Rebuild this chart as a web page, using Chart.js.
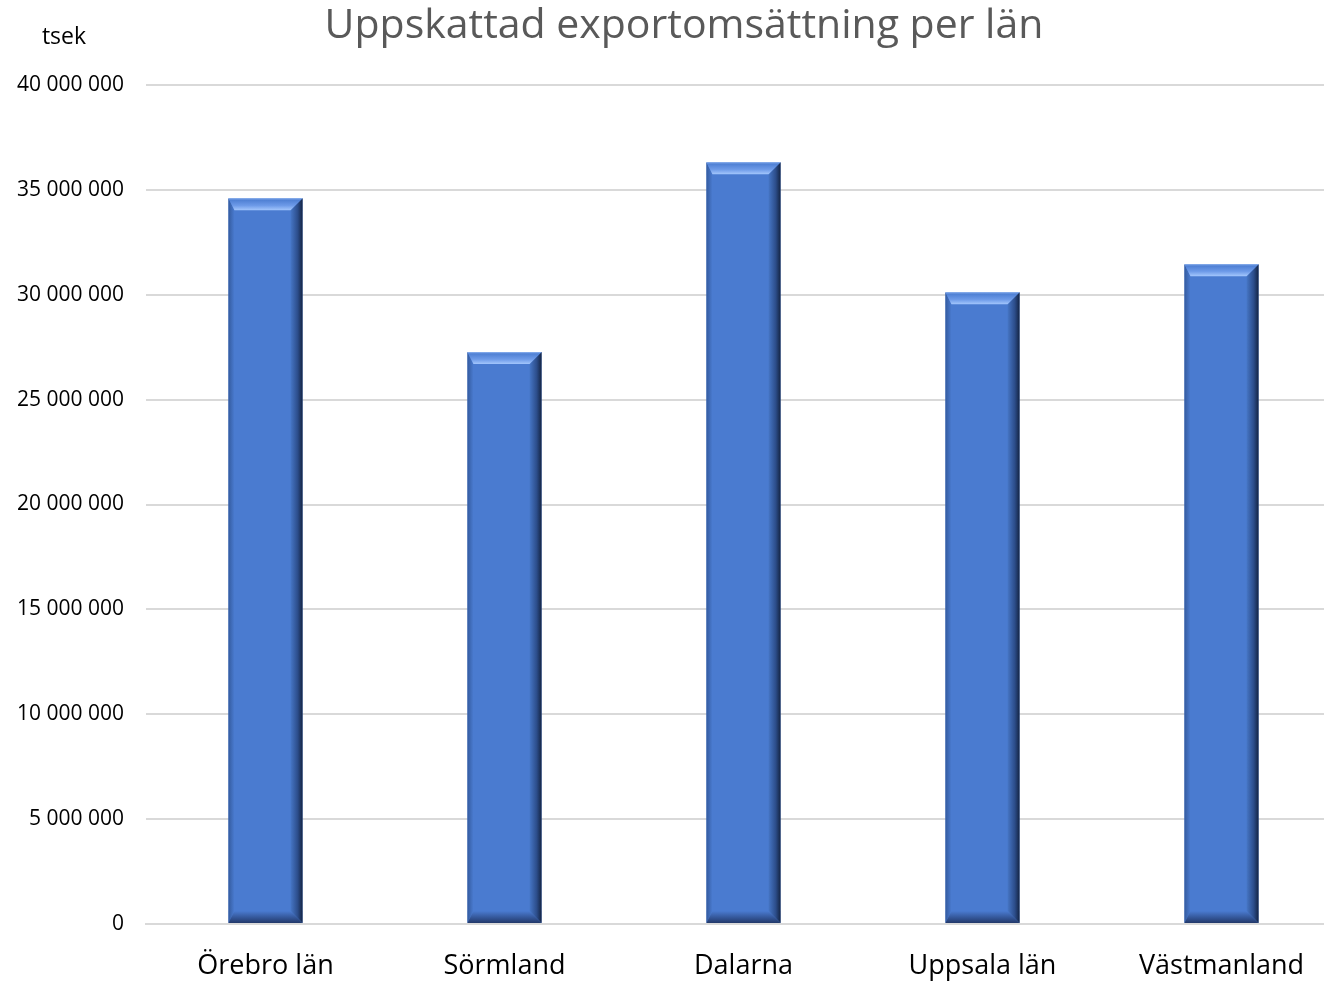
<!DOCTYPE html>
<html>
<head>
<meta charset="utf-8">
<script src="https://cdn.jsdelivr.net/npm/chart.js@4"></script>
<style>
    html, body { margin: 0; padding: 0; background: #fff; overflow: hidden; }
    #wrap { position: relative; width: 1341px; height: 981px; }
</style>
</head>
<body>
<div id="wrap"><canvas id="exportChart"></canvas></div>
<script>
// Uppskattad exportomsättning per län (tsek)
const lanNames = ['Örebro län', 'Sörmland', 'Dalarna', 'Uppsala län', 'Västmanland'];
const exportValues = [34600000, 27270000, 36320000, 30120000, 31460000];
const yTicks = [0, 5000000, 10000000, 15000000, 20000000, 25000000, 30000000, 35000000, 40000000];

const FONT = '"Open Sans", "Noto Sans", sans-serif';

function fmtSv(v) {
    return String(v).replace(/\B(?=(\d{3})+(?!\d))/g, ' ');
}

// fake the office "bevel" look on each bar
const bevelPlugin = {
    id: 'bevel',
    afterDatasetsDraw(chart) {
        const ctx = chart.ctx;
        chart.getDatasetMeta(0).data.forEach((bar) => {
            const w = bar.width;
            const l = bar.x - w / 2, r = bar.x + w / 2;
            const t = bar.y, b = bar.base;
            const bv = 12;
            ctx.save();

            // left edge
            let g = ctx.createLinearGradient(l, 0, l + 6, 0);
            g.addColorStop(0, '#345b9f');
            g.addColorStop(1, '#4a7bd0');
            ctx.fillStyle = g;
            ctx.beginPath();
            ctx.moveTo(l, t); ctx.lineTo(l + 6, t + bv); ctx.lineTo(l + 6, b - bv); ctx.lineTo(l, b);
            ctx.closePath(); ctx.fill();

            // right edge
            g = ctx.createLinearGradient(r - bv, 0, r, 0);
            g.addColorStop(0, '#4676c6');
            g.addColorStop(0.6, '#2c4d8a');
            g.addColorStop(1, '#142443');
            ctx.fillStyle = g;
            ctx.beginPath();
            ctx.moveTo(r, t); ctx.lineTo(r, b); ctx.lineTo(r - bv, b - bv); ctx.lineTo(r - bv, t + bv);
            ctx.closePath(); ctx.fill();

            // bottom edge
            g = ctx.createLinearGradient(0, b - bv, 0, b);
            g.addColorStop(0, '#4a7bd0');
            g.addColorStop(1, '#22396a');
            ctx.fillStyle = g;
            ctx.beginPath();
            ctx.moveTo(l, b); ctx.lineTo(r, b); ctx.lineTo(r - bv, b - bv); ctx.lineTo(l + 6, b - bv);
            ctx.closePath(); ctx.fill();

            // top edge
            g = ctx.createLinearGradient(0, t, 0, t + bv);
            g.addColorStop(0, '#8fb4f0');
            g.addColorStop(0.15, '#4f80d4');
            g.addColorStop(0.6, '#6d9ae8');
            g.addColorStop(1, '#a3c6fc');
            ctx.fillStyle = g;
            ctx.beginPath();
            ctx.moveTo(l, t); ctx.lineTo(r, t); ctx.lineTo(r - bv, t + bv); ctx.lineTo(l + 6, t + bv);
            ctx.closePath(); ctx.fill();

            ctx.restore();
        });
    }
};

const textPlugin = {
    id: 'texts',
    afterDraw(chart) {
        const ctx = chart.ctx;
        ctx.save();
        ctx.textBaseline = 'middle';
        ctx.textAlign = 'center';
        ctx.fillStyle = '#595959';
        ctx.font = '41px ' + FONT;
        ctx.fillText('Uppskattad exportomsättning per län', 684, 26);
        ctx.fillStyle = '#000';
        ctx.font = '23px ' + FONT;
        ctx.fillText('tsek', 64, 37);
        ctx.restore();
    }
};

new Chart(document.getElementById('exportChart'), {
    type: 'bar',
    data: {
        labels: lanNames,
        datasets: [{
            data: exportValues,
            backgroundColor: '#4a7bd0',
            borderWidth: 0,
            barPercentage: 1,
            categoryPercentage: 0.31
        }]
    },
    options: {
        responsive: true,
        maintainAspectRatio: false,
        animation: false,
        layout: { padding: { top: 85, right: 0, bottom: 0, left: 0 } },
        plugins: { legend: { display: false }, tooltip: { enabled: false }, title: { display: false } },
        scales: {
            x: {
                grid: { display: false, drawTicks: false },
                border: { color: '#d9d9d9', width: 2 },
                ticks: { color: '#000', font: { family: FONT, size: 27 }, padding: 26 },
                afterFit(scale) { scale.height = 57; }
            },
            y: {
                min: 0,
                max: 40000000,
                afterBuildTicks(scale) { scale.ticks = yTicks.map((v) => ({ value: v })); },
                grid: { color: '#d9d9d9', lineWidth: 2, drawTicks: false },
                border: { display: false },
                ticks: {
                    color: '#000',
                    font: { family: FONT, size: 21 },
                    padding: 22,
                    callback: (v) => fmtSv(v)
                },
                afterFit(scale) { scale.width = 146; }
            }
        }
    },
    plugins: [bevelPlugin, textPlugin]
});
</script>
</body>
</html>
